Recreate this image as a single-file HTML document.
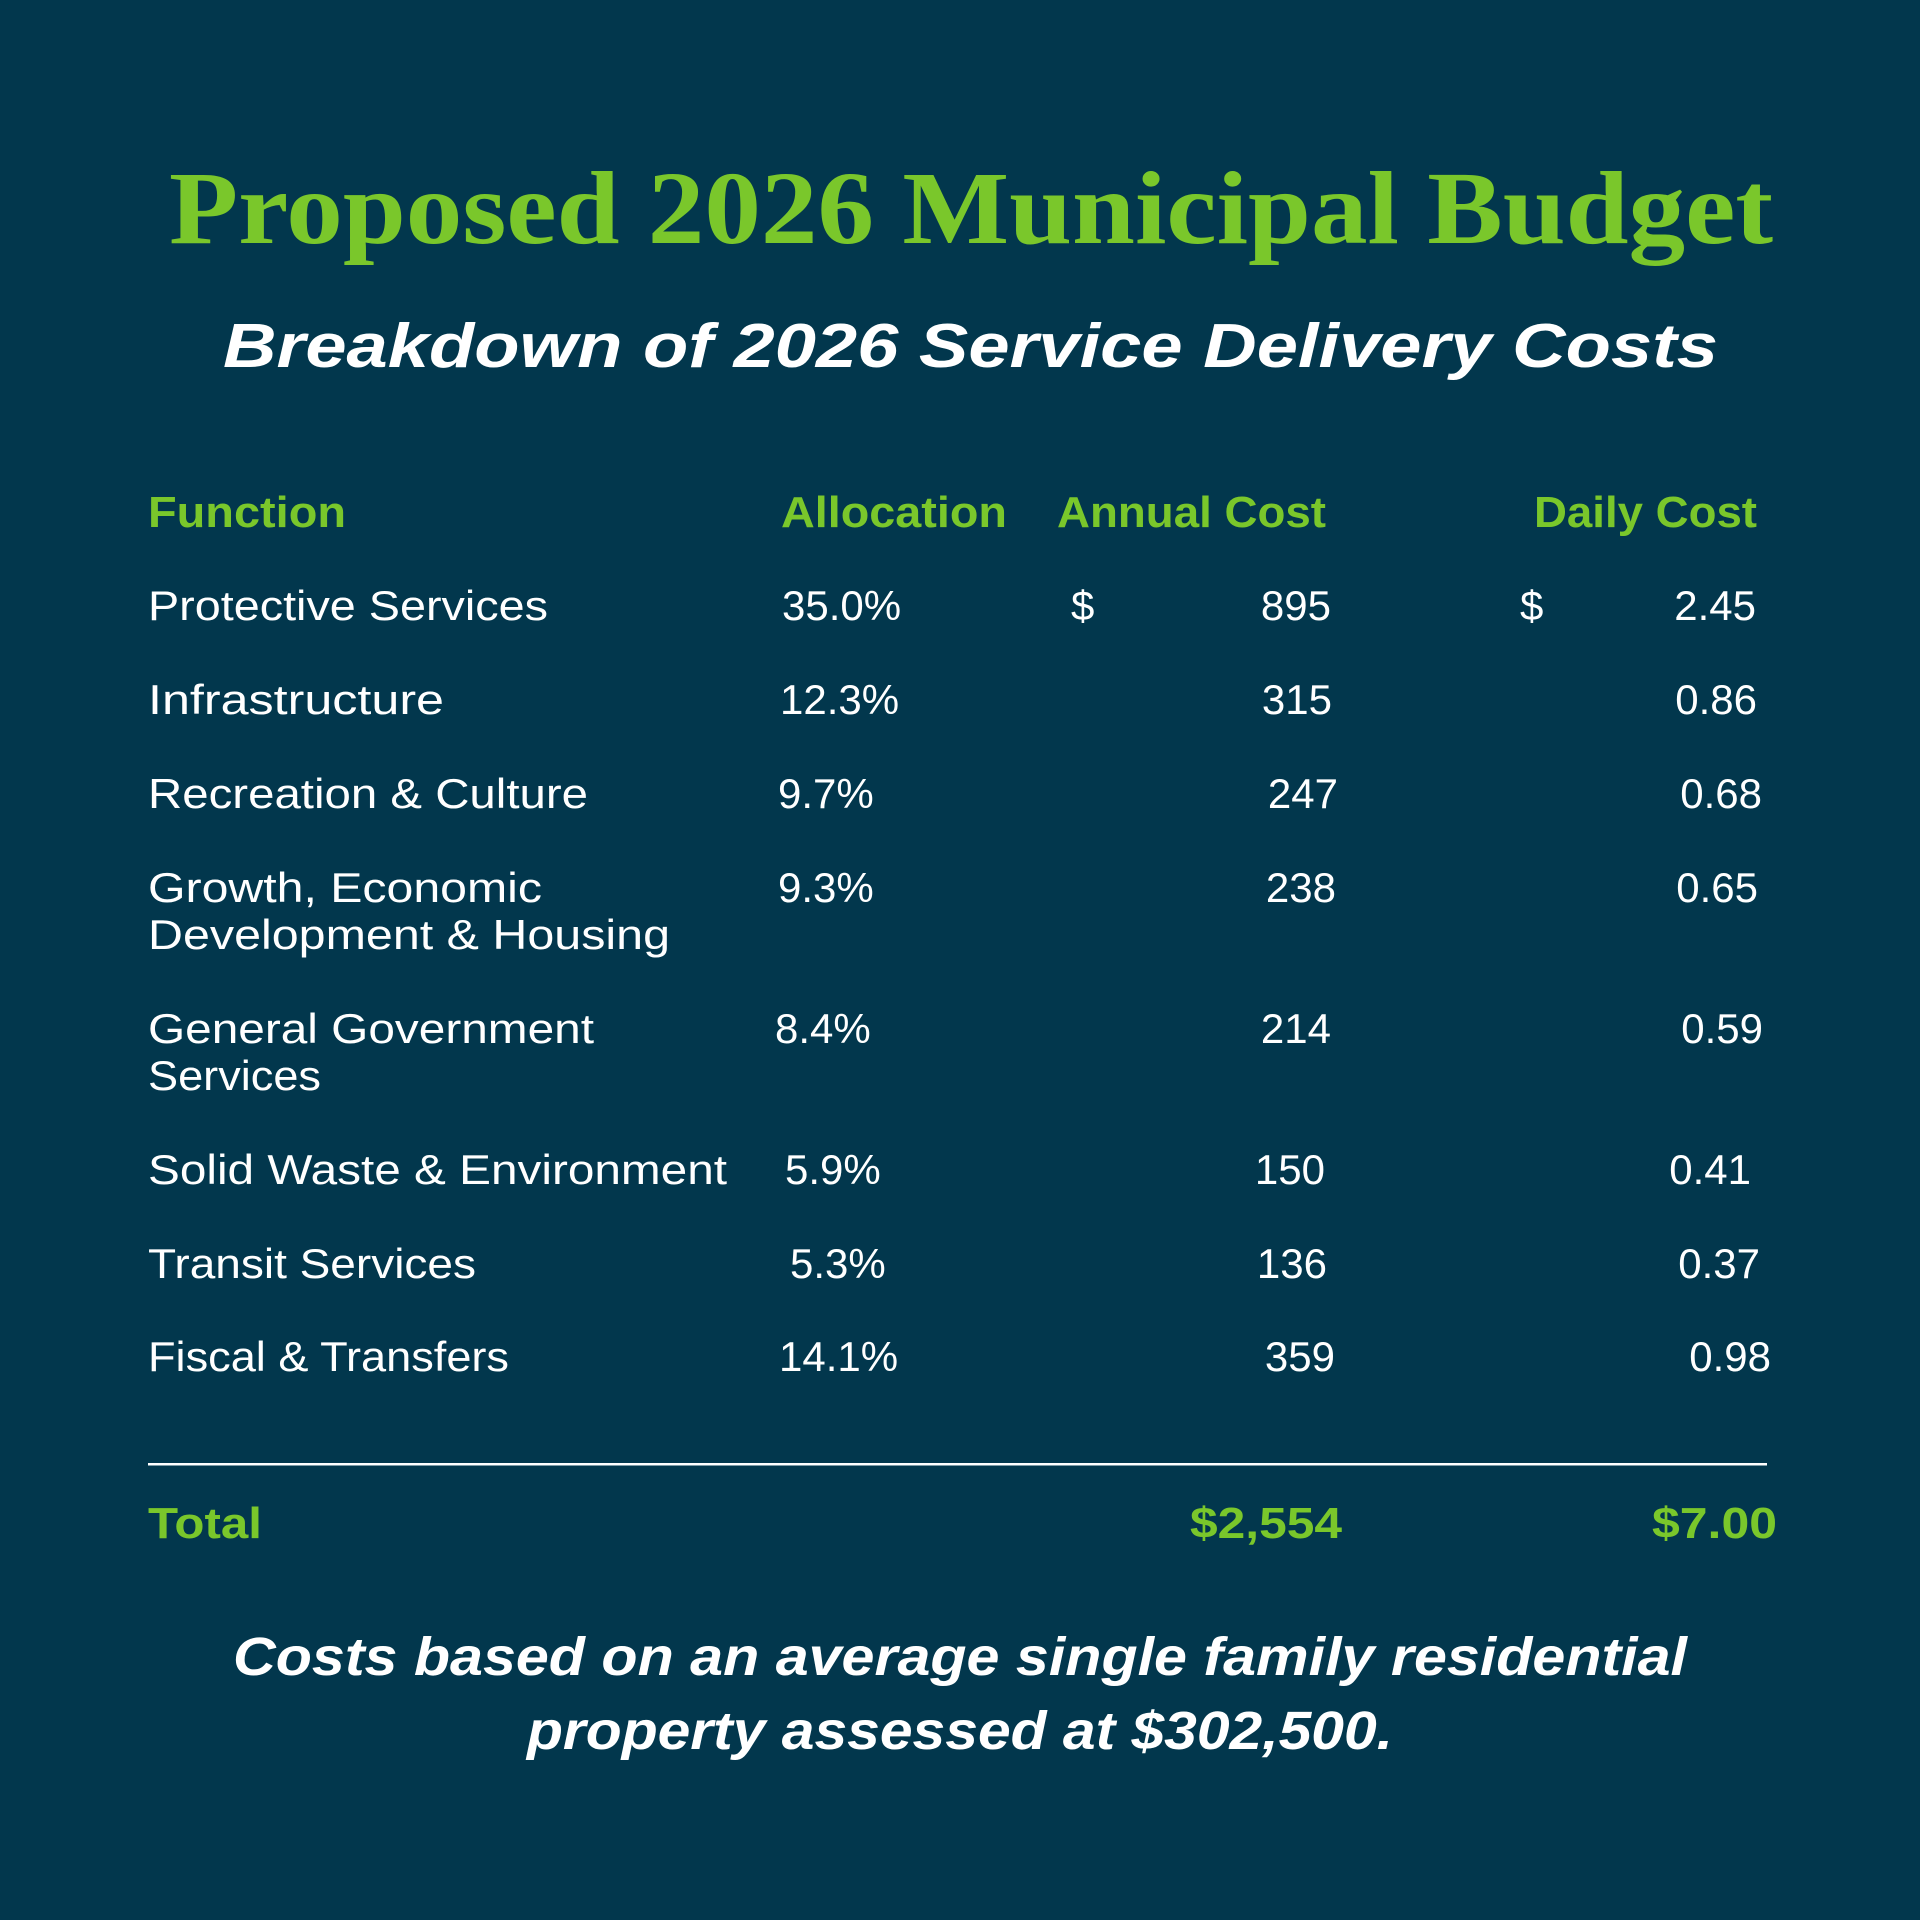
<!DOCTYPE html>
<html><head><meta charset="utf-8"><style>
html,body{margin:0;padding:0;background:#02374d;}
svg{display:block;}
.h{font-family:"Liberation Sans",sans-serif;font-weight:bold;fill:#7ac72b;font-size:44px;}
.r{font-family:"Liberation Sans",sans-serif;fill:#fff;font-size:42px;}
.f{font-family:"Liberation Sans",sans-serif;font-weight:bold;font-style:italic;fill:#fff;font-size:54px;}
</style></head><body>
<svg width="1920" height="1920" viewBox="0 0 1920 1920" xmlns="http://www.w3.org/2000/svg">
<rect width="1920" height="1920" fill="#02374d"/>
<text x="169" y="243" font-family="Liberation Serif, serif" font-weight="bold" font-size="104" fill="#7ac72b" textLength="1604" lengthAdjust="spacingAndGlyphs">Proposed 2026 Municipal Budget</text>
<text x="223" y="367" font-family="Liberation Sans, sans-serif" font-weight="bold" font-style="italic" font-size="62" fill="#fff" textLength="1495" lengthAdjust="spacingAndGlyphs">Breakdown of 2026 Service Delivery Costs</text>

<text class="h" x="148" y="527" textLength="198" lengthAdjust="spacingAndGlyphs">Function</text>
<text class="h" x="781" y="527" textLength="226" lengthAdjust="spacingAndGlyphs">Allocation</text>
<text class="h" x="1057" y="527" textLength="269" lengthAdjust="spacingAndGlyphs">Annual Cost</text>
<text class="h" x="1534" y="527" textLength="223" lengthAdjust="spacingAndGlyphs">Daily Cost</text>

<g class="r">
<text x="148" y="620" textLength="400" lengthAdjust="spacingAndGlyphs">Protective Services</text>
<text x="782" y="620">35.0%</text>
<text x="1071" y="620">$</text>
<text x="1331" y="620" text-anchor="end">895</text>
<text x="1520" y="620">$</text>
<text x="1756" y="620" text-anchor="end">2.45</text>

<text x="148" y="714" textLength="296" lengthAdjust="spacingAndGlyphs">Infrastructure</text>
<text x="780" y="714">12.3%</text>
<text x="1332" y="714" text-anchor="end">315</text>
<text x="1757" y="714" text-anchor="end">0.86</text>

<text x="148" y="808" textLength="440" lengthAdjust="spacingAndGlyphs">Recreation &amp; Culture</text>
<text x="778" y="808">9.7%</text>
<text x="1338" y="808" text-anchor="end">247</text>
<text x="1762" y="808" text-anchor="end">0.68</text>

<text x="148" y="902" textLength="394" lengthAdjust="spacingAndGlyphs">Growth, Economic</text>
<text x="148" y="949" textLength="522" lengthAdjust="spacingAndGlyphs">Development &amp; Housing</text>
<text x="778" y="902">9.3%</text>
<text x="1336" y="902" text-anchor="end">238</text>
<text x="1758" y="902" text-anchor="end">0.65</text>

<text x="148" y="1043" textLength="446" lengthAdjust="spacingAndGlyphs">General Government</text>
<text x="148" y="1090" textLength="173" lengthAdjust="spacingAndGlyphs">Services</text>
<text x="775" y="1043">8.4%</text>
<text x="1331" y="1043" text-anchor="end">214</text>
<text x="1763" y="1043" text-anchor="end">0.59</text>

<text x="148" y="1184" textLength="579" lengthAdjust="spacingAndGlyphs">Solid Waste &amp; Environment</text>
<text x="785" y="1184">5.9%</text>
<text x="1325" y="1184" text-anchor="end">150</text>
<text x="1751" y="1184" text-anchor="end">0.41</text>

<text x="148" y="1278" textLength="328" lengthAdjust="spacingAndGlyphs">Transit Services</text>
<text x="790" y="1278">5.3%</text>
<text x="1327" y="1278" text-anchor="end">136</text>
<text x="1760" y="1278" text-anchor="end">0.37</text>

<text x="148" y="1371" textLength="361" lengthAdjust="spacingAndGlyphs">Fiscal &amp; Transfers</text>
<text x="779" y="1371">14.1%</text>
<text x="1335" y="1371" text-anchor="end">359</text>
<text x="1771" y="1371" text-anchor="end">0.98</text>
</g>

<rect x="148" y="1463" width="1619" height="2.5" fill="#fff"/>

<text class="h" x="148" y="1538" textLength="114" lengthAdjust="spacingAndGlyphs">Total</text>
<text class="h" x="1190" y="1538" textLength="152" lengthAdjust="spacingAndGlyphs">$2,554</text>
<text class="h" x="1652" y="1538" textLength="125" lengthAdjust="spacingAndGlyphs">$7.00</text>

<text class="f" x="233" y="1675" textLength="1454" lengthAdjust="spacingAndGlyphs">Costs based on an average single family residential</text>
<text class="f" x="527" y="1749" textLength="866" lengthAdjust="spacingAndGlyphs">property assessed at $302,500.</text>
</svg>
</body></html>
